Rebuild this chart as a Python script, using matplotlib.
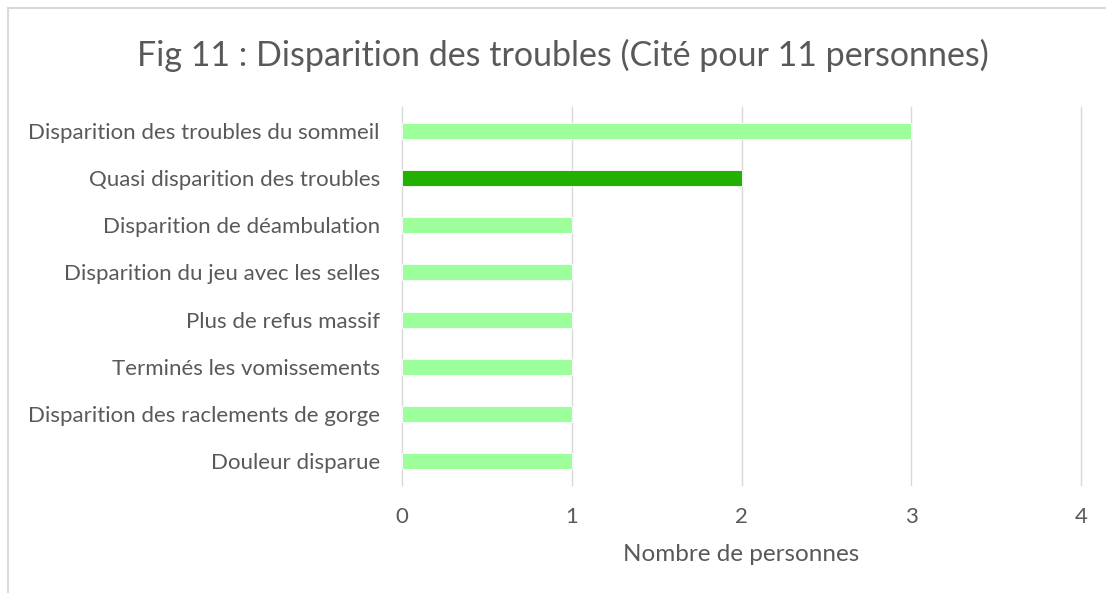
import matplotlib
matplotlib.use("Agg")
import matplotlib.pyplot as plt
from matplotlib.lines import Line2D

categories = [
    "Disparition des troubles du sommeil",
    "Quasi disparition des troubles",
    "Disparition de déambulation",
    "Disparition du jeu avec les selles",
    "Plus de refus massif",
    "Terminés les vomissements",
    "Disparition des raclements de gorge",
    "Douleur disparue",
]
values = [3, 2, 1, 1, 1, 1, 1, 1]
highlight = [False, True, False, False, False, False, False, False]
xticks = [0, 1, 2, 3, 4]

LIGHT = "#9CFF9C"
DARK = "#23B000"
TXT = "#595959"

plt.rcParams['font.family'] = ['Lato', 'DejaVu Sans']

fig = plt.figure(figsize=(11.06, 5.93), dpi=100)
ax = fig.add_axes([402/1106, 1-485/593, (1081-402)/1106, (485-107)/593])

ypos = list(range(len(categories)))
colors = [DARK if h else LIGHT for h in highlight]
ax.barh(ypos, values, height=0.34, color=colors, edgecolor="white", linewidth=0.6, zorder=3)
ax.set_ylim(len(categories) - 0.5, -0.5)
ax.set_xlim(xticks[0], xticks[-1])
ax.set_yticks(ypos)
ax.set_yticklabels(categories, fontsize=16, color=TXT)
ax.set_xticks(xticks)
ax.set_xticklabels([str(t) for t in xticks], fontsize=16, color=TXT)
ax.tick_params(axis='both', length=0)
ax.tick_params(axis='y', pad=16)
ax.tick_params(axis='x', pad=16)
ax.grid(axis='x', color="#D9D9D9", linewidth=1.0, zorder=0)
for gl in ax.get_xgridlines():
    gl.set_clip_on(False)
for s in ax.spines.values():
    s.set_visible(False)
ax.set_xlabel("Nombre de personnes", fontsize=17.5, color=TXT, labelpad=12)

fig.text(563/1106, 1-55/593, "Fig 11 : Disparition des troubles (Cité pour 11 personnes)",
         fontsize=24.5, color=TXT, ha='center', va='center')

# chart border (top and left visible)
fig.add_artist(Line2D([8/1106, 8/1106], [0, 1-8/593], transform=fig.transFigure, color="#D9D9D9", linewidth=1.5))
fig.add_artist(Line2D([8/1106, 1], [1-8/593, 1-8/593], transform=fig.transFigure, color="#D9D9D9", linewidth=1.5))

fig.savefig("out.png", dpi=100)
